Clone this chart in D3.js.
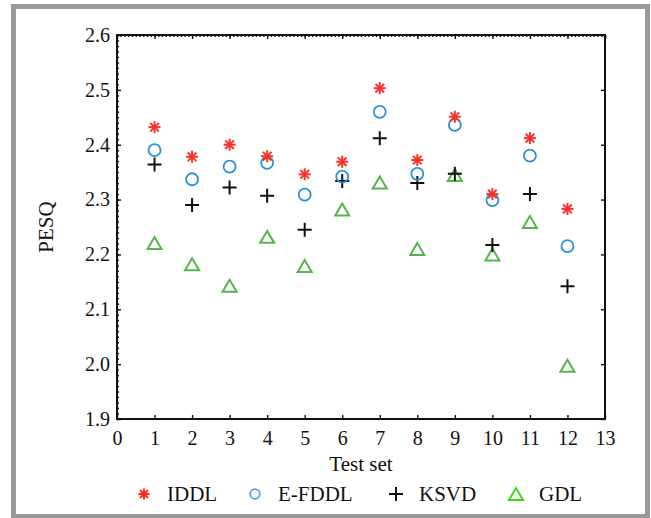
<!DOCTYPE html>
<html>
<head>
<meta charset="utf-8">
<script src="https://cdn.jsdelivr.net/npm/d3@7"></script>
<style>
  body { margin: 0; background: #fff; }
  svg text { font-family: "Liberation Serif", "Times New Roman", serif !important; fill: #111; }
</style>
</head>
<body>
<div id="chart"></div>
<script>
var testSets = [1, 2, 3, 4, 5, 6, 7, 8, 9, 10, 11, 12];
var iddl  = [2.432, 2.378, 2.400, 2.379, 2.346, 2.369, 2.503, 2.372, 2.451, 2.310, 2.412, 2.283];
var efddl = [2.390, 2.337, 2.360, 2.367, 2.309, 2.342, 2.460, 2.347, 2.436, 2.299, 2.380, 2.215];
var ksvd  = [2.364, 2.290, 2.322, 2.307, 2.245, 2.334, 2.412, 2.330, 2.347, 2.217, 2.310, 2.142];
var gdl   = [2.221, 2.182, 2.143, 2.232, 2.179, 2.282, 2.331, 2.210, 2.345, 2.200, 2.259, 1.997];

var xTicks = [0, 1, 2, 3, 4, 5, 6, 7, 8, 9, 10, 11, 12, 13];
var yTicks = [1.9, 2.0, 2.1, 2.2, 2.3, 2.4, 2.5, 2.6];
var seriesNames = ["IDDL", "E-FDDL", "KSVD", "GDL"];

var width = 651, height = 518;
var plot = {left: 117, right: 605, top: 35, bottom: 419};
var serif = "'Liberation Serif', 'Times New Roman', serif";

var svg = d3.select("#chart").append("svg")
    .attr("width", width)
    .attr("height", height)
    .attr("font-family", serif);

// grey frame round the figure
svg.append("rect")
    .attr("x", 13.5).attr("y", 6.5)
    .attr("width", 634).attr("height", 510)
    .attr("fill", "none")
    .attr("stroke", "#999")
    .attr("stroke-width", 5);

var x = d3.scaleLinear().domain([0, 13]).range([plot.left, plot.right]),
    y = d3.scaleLinear().domain([1.9, 2.6]).range([plot.bottom, plot.top]);

var xMinor = d3.range(0, 131).map(function(d) { return d / 10; }),
    yMinor = d3.range(190, 261).map(function(d) { return d / 100; });

// marker painters
function star(g, color, r) {
    r = r || 6;
    var k = r * 0.72;
    [[0, -r, 0, r], [-r, 0, r, 0], [-k, -k, k, k], [-k, k, k, -k]].forEach(function(l) {
        g.append("line")
            .attr("x1", l[0]).attr("y1", l[1]).attr("x2", l[2]).attr("y2", l[3])
            .attr("stroke", color).attr("stroke-width", 2);
    });
}
function circle(g, color, r) {
    g.append("circle").attr("r", r || 6)
        .attr("fill", "none").attr("stroke", color).attr("stroke-width", 1.8);
}
function plus(g, color) {
    g.append("path").attr("d", "M-7,0H7M0,-7V7")
        .attr("stroke", color).attr("stroke-width", 2);
}
function triangle(g, color) {
    g.append("path").attr("d", "M0,-6L7,6L-7,6Z")
        .attr("fill", "none").attr("stroke", color).attr("stroke-width", 2)
        .attr("stroke-linejoin", "miter");
}

var series = [
    {values: iddl,  color: "#f5332a", draw: star},
    {values: efddl, color: "#2b8fd8", draw: circle},
    {values: ksvd,  color: "#111111", draw: plus},
    {values: gdl,   color: "#55b548", draw: triangle}
];

drawAxes();
drawPoints();
drawLegend();

function drawAxes() {
    var fs = "20px";

    var bottom = svg.append("g")
        .attr("transform", "translate(0," + plot.bottom + ")")
        .call(d3.axisBottom(x).tickValues(xTicks).tickFormat(d3.format("d"))
            .tickSizeInner(-4).tickSizeOuter(0).tickPadding(12));
    bottom.selectAll("text").style("font-size", fs);

    var left = svg.append("g")
        .attr("transform", "translate(" + plot.left + ",0)")
        .call(d3.axisLeft(y).tickValues(yTicks).tickFormat(d3.format(".1f"))
            .tickSizeInner(-4).tickSizeOuter(0).tickPadding(7));
    left.selectAll("text").style("font-size", fs);

    svg.append("g")
        .attr("transform", "translate(" + plot.left + ",0)")
        .call(d3.axisLeft(y).tickValues(yMinor).tickFormat("")
            .tickSizeInner(-2).tickSizeOuter(0));

    svg.append("g")
        .attr("transform", "translate(0," + plot.top + ")")
        .call(d3.axisTop(x).tickValues(xTicks).tickFormat("")
            .tickSizeInner(-4).tickSizeOuter(0));
    svg.append("g")
        .attr("transform", "translate(0," + plot.top + ")")
        .call(d3.axisTop(x).tickValues(xMinor).tickFormat("")
            .tickSizeInner(-2).tickSizeOuter(0));

    svg.append("g")
        .attr("transform", "translate(" + plot.right + ",0)")
        .call(d3.axisRight(y).tickValues(yTicks).tickFormat("")
            .tickSizeInner(-4).tickSizeOuter(0));

    svg.selectAll(".domain").remove();
    svg.selectAll("g").attr("font-family", serif);
    svg.selectAll(".tick line").attr("stroke", "#111").attr("stroke-width", 1.4);

    svg.append("rect")
        .attr("x", plot.left).attr("y", plot.top)
        .attr("width", plot.right - plot.left)
        .attr("height", plot.bottom - plot.top)
        .attr("fill", "none")
        .attr("stroke", "#111")
        .attr("stroke-width", 2);

    svg.append("text")
        .attr("x", (plot.left + plot.right) / 2)
        .attr("y", 471)
        .attr("text-anchor", "middle")
        .style("font-size", "21px")
        .text("Test set");

    svg.append("text")
        .attr("transform", "translate(53," + ((plot.top + plot.bottom) / 2) + ") rotate(-90)")
        .attr("text-anchor", "middle")
        .style("font-size", "21px")
        .text("PESQ");
}

function drawPoints() {
    // drawn back to front so the star ends up over the circle like the original
    [3, 2, 1, 0].forEach(function(i) {
        var s = series[i];
        svg.append("g").selectAll("g")
            .data(testSets)
            .enter().append("g")
            .attr("transform", function(d, j) { return "translate(" + x(d) + "," + y(s.values[j]) + ")"; })
            .each(function() { s.draw(d3.select(this), s.color); });
    });
}

function drawLegend() {
    var legendColors = ["#ff2a1a", "#4aa3f5", "#111111", "#3bdc10"];
    var legendSize = [5.5, 4.8, 7, 7];
    var markerX = [144, 255, 396, 516];
    var ly = 494;
    seriesNames.forEach(function(name, i) {
        var g = svg.append("g").attr("transform", "translate(" + markerX[i] + "," + ly + ")");
        series[i].draw(g, legendColors[i], legendSize[i]);
        svg.append("text")
            .attr("x", markerX[i] + 23)
            .attr("y", ly + 7)
            .attr("font-family", serif)
            .style("font-size", "21px")
            .text(name);
    });
}
</script>
</body>
</html>
